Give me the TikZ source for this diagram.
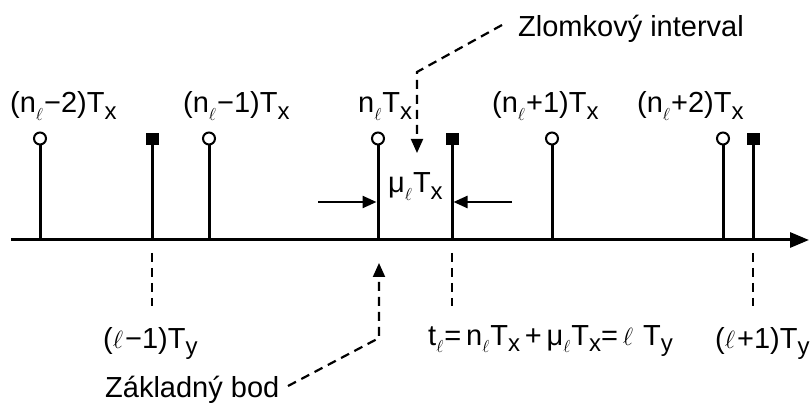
\documentclass[tikz,border=0pt]{standalone}
\usepackage{fontspec}
\setmainfont{Liberation Sans}
\usetikzlibrary{arrows.meta}
\newcommand{\Ls}{\raisebox{-0.5ex}{\fontsize{16}{16}\selectfont$\ell$}\kern1pt}
\newcommand{\Sb}[1]{\raisebox{-0.45ex}{\fontsize{24}{24}\selectfont #1}}
\newcommand{\Lfull}{{\fontsize{29}{29}\selectfont$\ell$}\kern2pt}
\begin{document}
\begin{tikzpicture}[x=1pt,y=-1pt,
  lab/.style={inner sep=0pt, anchor=base west, font=\fontsize{29}{32}\selectfont},
  stem/.style={line width=3pt},
  dsh/.style={line width=2.2pt, dash pattern=on 9pt off 6pt},
  hd/.style={-{Triangle[length=14pt,width=12pt]}},
  ring/.style={circle, draw, fill=white, line width=2pt, minimum size=12pt, inner sep=0pt},
  blk/.style={rectangle, fill=black, minimum width=13pt, minimum height=12.5pt, inner sep=0pt},
]
\useasboundingbox (0,0) rectangle (811,403);
% axis
\coordinate (a0) at (11,240);
\coordinate (a1) at (809,240);
\draw[line width=3pt, -{Triangle[length=19pt,width=15pt]}] (a0) -- (a1);
% samples
\node[ring] (c1) at (40,138.5) {};
\node[ring] (c2) at (209,138.5) {};
\node[ring] (c3) at (378,138.5) {};
\node[ring] (c4) at (552,138.5) {};
\node[ring] (c5) at (723,138.5) {};
\node[blk] (s1) at (152,139) {};
\node[blk] (s2) at (452,139) {};
\node[blk] (s3) at (753,139) {};
\foreach \n in {c1,c2,c3,c4,c5,s1,s2,s3}
  \draw[stem] (\n.south) -- (\n.south |- a0);
% dashed marks below
\coordinate (d1t) at (152,253); \coordinate (d1b) at (152,306);
\coordinate (d2t) at (452,253); \coordinate (d2b) at (452,306);
\coordinate (d3t) at (753,253); \coordinate (d3b) at (753,306);
\draw[dsh] (d1t) -- (d1b);
\draw[dsh] (d2t) -- (d2b);
\draw[dsh] (d3t) -- (d3b);
% top labels
\node[lab] (l1) at (10,113) {(n\Ls−2)T\Sb{x}};
\node[lab] (l2) at (183,113) {(n\Ls−1)T\Sb{x}};
\node[lab] (l3) at (358,113) {n\Ls T\Sb{x}};
\node[lab] (l4) at (492,113) {(n\Ls+1)T\Sb{x}};
\node[lab] (l5) at (637,113) {(n\Ls+2)T\Sb{x}};
\node[lab] (zl) at (518,37) {Zlomkový interval};
% fractional interval leader
\coordinate (z0) at (502,25);
\coordinate (z1) at (417,72);
\coordinate (z2) at (417,153);
\draw[dsh] (z0) -- (z1) -- (z2 |- 0,141);
\draw[line width=2pt, hd] (z2 |- 0,140) -- (z2);
% mu label and arrows
\node[lab] (mu) at (388,193) {μ\Ls T\Sb{x}};
\coordinate (m0) at (318,202); \coordinate (m1) at (376.5,202);
\coordinate (m2) at (512,202); \coordinate (m3) at (453.5,202);
\draw[line width=2.4pt, hd] (m0) -- (m1);
\draw[line width=2.4pt, hd] (m2) -- (m3);
% bottom labels
\node[lab] (b1) at (103,348) {(\Lfull−1)T\Sb{y}};
\node[lab] (b2) at (428,345) {t\Ls=\,n\Ls T\Sb{x}\,+\,μ\Ls T\Sb{x}=\,\Lfull\ T\Sb{y}};
\node[lab] (b3) at (715,348) {(\Lfull+1)T\Sb{y}};
\node[lab] (zb) at (105,397) {Základný bod};
% base point leader
\coordinate (k0) at (288,386);
\coordinate (k1) at (379,338);
\coordinate (k2) at (379,263);
\draw[dsh] (k0) -- (k1) -- (k2 |- 0,276);
\draw[line width=2pt, hd] (k2 |- 0,277) -- (k2);
\end{tikzpicture}
\end{document}
